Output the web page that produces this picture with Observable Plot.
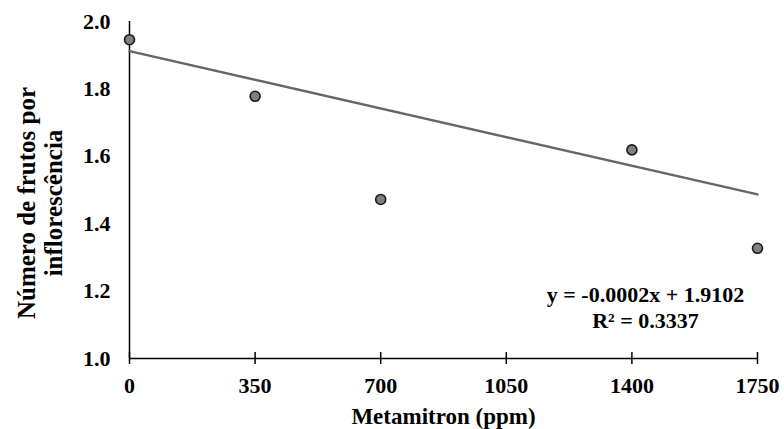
<!DOCTYPE html>
<html>
<head>
<meta charset="utf-8">
<script src="https://cdn.jsdelivr.net/npm/d3@7"></script>
<script src="https://cdn.jsdelivr.net/npm/@observablehq/plot@0.6"></script>
<style>
  html, body { margin: 0; padding: 0; background: #fff; }
  #chart svg { display: block; }
  #chart svg, #chart svg text { font-family: "Liberation Serif", "Times New Roman", serif !important; font-weight: bold; }
</style>
</head>
<body>
<div id="chart"></div>
<script>
// Data
const xTicks = [0, 350, 700, 1050, 1400, 1750];
const yTicks = [1.0, 1.2, 1.4, 1.6, 1.8, 2.0];
const doses = [0, 350, 700, 1400, 1750];
const frutos = [1.946, 1.778, 1.472, 1.619, 1.327];
const trendX = [0, 1750];
const trendY = [1.912, 1.487];
const equationLines = ["y = -0.0002x + 1.9102", "R² = 0.3337"];
const xTitle = "Metamitron (ppm)";
const yTitle = ["Número de frutos por", "inflorescência"];

const points = doses.map((d, i) => ({x: d, y: frutos[i]}));
const trend = trendX.map((d, i) => ({x: d, y: trendY[i]}));

const chart = Plot.plot({
  width: 784,
  height: 429,
  marginLeft: 129,
  marginRight: 27,
  marginTop: 21,
  marginBottom: 71,
  style: {fontSize: "22px", color: "#000", background: "#fff"},
  x: {domain: [0, 1750]},
  y: {domain: [1, 2]},
  marks: [
    Plot.ruleX([0], {stroke: "#000", strokeWidth: 1.5}),
    Plot.ruleY([1], {stroke: "#000", strokeWidth: 1.5}),
    Plot.axisX({ticks: xTicks, tickSize: 12, dy: -6, text: null, label: null, stroke: "#000", strokeWidth: 1.5}),
    Plot.axisX({ticks: xTicks, tickSize: 0, tickPadding: 19, label: null, fontSize: 22, fontWeight: "bold", fill: "#000", tickFormat: d3.format("d")}),
    Plot.axisY({ticks: yTicks, tickSize: 0, tickPadding: 19, label: null, fontSize: 22, fontWeight: "bold", fill: "#000", tickFormat: d3.format(".1f")}),
    Plot.line(trend, {x: "x", y: "y", stroke: "#666", strokeWidth: 2.5}),
    Plot.dot(points, {x: "x", y: "y", r: 5, fill: "#808080", stroke: "#1a1a1a", strokeWidth: 1.6}),
    Plot.text([equationLines.join("\n")], {frameAnchor: "bottom-right", dx: -112, dy: -52, textAnchor: "middle", lineAnchor: "middle", lineHeight: 1.18, fontSize: 22, fontWeight: "bold", fill: "#000"}),
    Plot.text([xTitle], {frameAnchor: "bottom", dy: 58, lineAnchor: "middle", fontSize: 23, fontWeight: "bold", fill: "#000"}),
    Plot.text([yTitle.join("\n")], {frameAnchor: "left", dx: -90, dy: 13, rotate: -90, textAnchor: "middle", lineAnchor: "middle", lineHeight: 1.1, fontSize: 25, fontWeight: "bold", fill: "#000"})
  ]
});
document.getElementById("chart").appendChild(chart);
</script>
</body>
</html>
